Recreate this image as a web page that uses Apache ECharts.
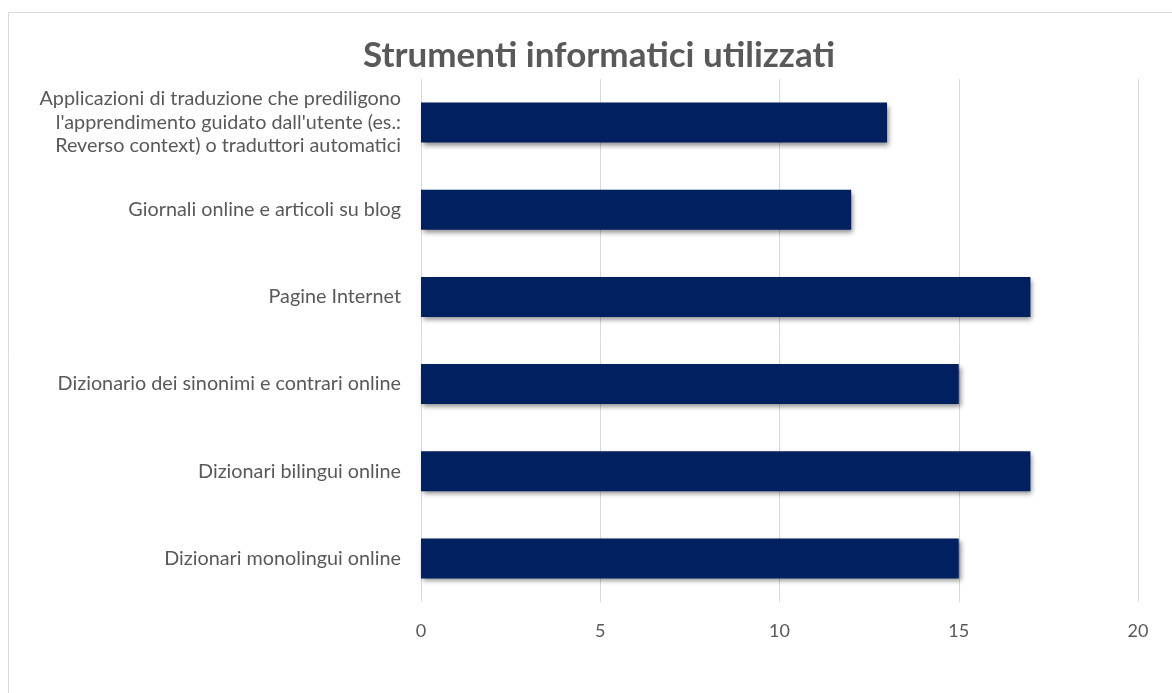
<!DOCTYPE html>
<html>
<head>
<meta charset="utf-8">
<script src="https://cdn.jsdelivr.net/npm/echarts@6/dist/echarts.min.js"></script>
<style>
html,body{margin:0;padding:0;background:#fff;}
#chart{width:1172px;height:693px;}
</style>
</head>
<body>
<div id="chart"></div>
<script>
const title = "Strumenti informatici utilizzati";
const categories = [
  "Dizionari monolingui online",
  "Dizionari bilingui online",
  "Dizionario dei sinonimi e contrari online",
  "Pagine Internet",
  "Giornali online e articoli su blog",
  "Applicazioni di traduzione che prediligono\nl'apprendimento guidato dall'utente (es.:\nReverso context) o traduttori automatici"
];
const values = [15, 17, 15, 17, 12, 13];
const xTicks = [0, 5, 10, 15, 20];

const chart = echarts.init(document.getElementById('chart'));
chart.setOption({
  backgroundColor: '#fff',
  animation: false,
  title: {
    text: title,
    left: 594,
    top: 33,
    textAlign: 'center',
    textStyle: {fontFamily: 'Lato', fontWeight: 'bold', fontSize: 35, color: '#595959'}
  },
  graphic: [{
    type: 'rect',
    shape: {x: 8.5, y: 12.5, width: 1200, height: 700},
    style: {fill: 'none', stroke: '#d9d9d9', lineWidth: 1},
    silent: true
  }],
  grid: {left: 421, right: 34, top: 79, bottom: 91, containLabel: false},
  xAxis: {
    type: 'value',
    min: xTicks[0],
    max: xTicks[xTicks.length - 1],
    interval: 5,
    axisLine: {show: false},
    axisTick: {show: false},
    axisLabel: {fontFamily: 'Lato', fontSize: 18, color: '#595959', margin: 20},
    splitLine: {show: true, lineStyle: {color: '#d9d9d9', width: 1}}
  },
  yAxis: {
    type: 'category',
    data: categories,
    axisLine: {show: false},
    axisTick: {show: false},
    axisLabel: {fontFamily: 'Lato', fontSize: 19.8, color: '#595959', margin: 20, lineHeight: 23.5, align: 'right'}
  },
  series: [{
    type: 'bar',
    data: values,
    barWidth: 40,
    itemStyle: {
      color: '#002060',
      shadowColor: 'rgba(0,0,0,0.45)',
      shadowBlur: 5,
      shadowOffsetX: 2,
      shadowOffsetY: 3
    }
  }]
});
</script>
</body>
</html>
